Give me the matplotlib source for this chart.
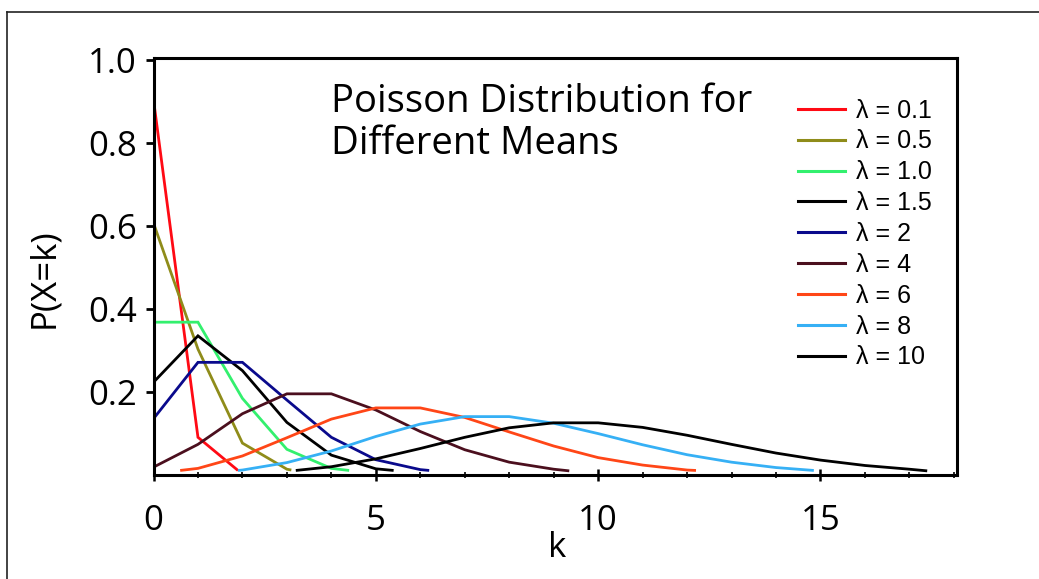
import matplotlib
matplotlib.use("Agg")
import matplotlib.pyplot as plt
from matplotlib.lines import Line2D
from matplotlib.ticker import MultipleLocator, FixedLocator

# ---- data ----
labels = ["λ = 0.1", "λ = 0.5", "λ = 1.0", "λ = 1.5", "λ = 2",
          "λ = 4", "λ = 6", "λ = 8", "λ = 10"]
colors = ["#FF0A14", "#8F8C1A", "#33F06E", "#000000", "#0A0A8C",
          "#4B0F1E", "#FF4617", "#36B0F5", "#000000"]

k_01 = [0, 1, 1.9]
p_01 = [0.905, 0.090, 0.010]
k_05 = [0, 1, 2, 3, 3.1]
p_05 = [0.607, 0.303, 0.076, 0.013, 0.011]
k_10 = [0, 1, 2, 3, 4, 4.4]
p_10 = [0.368, 0.368, 0.184, 0.061, 0.015, 0.010]
k_15 = [0, 1, 2, 3, 4, 5, 5.4]
p_15 = [0.223, 0.335, 0.251, 0.126, 0.047, 0.014, 0.010]
k_2 = [0, 1, 2, 3, 4, 5, 6, 6.2]
p_2 = [0.135, 0.271, 0.271, 0.180, 0.090, 0.036, 0.012, 0.010]
k_4 = [0, 1, 2, 3, 4, 5, 6, 7, 8, 9, 9.35]
p_4 = [0.018, 0.073, 0.147, 0.195, 0.195, 0.156, 0.104, 0.060, 0.030, 0.013, 0.009]
k_6 = [0.6, 1, 2, 3, 4, 5, 6, 7, 8, 9, 10, 11, 12, 12.2]
p_6 = [0.010, 0.015, 0.045, 0.089, 0.134, 0.161, 0.161, 0.138, 0.103, 0.069,
       0.041, 0.023, 0.011, 0.010]
k_8 = [1.9, 2, 3, 4, 5, 6, 7, 8, 9, 10, 11, 12, 13, 14, 14.85]
p_8 = [0.010, 0.011, 0.029, 0.057, 0.092, 0.122, 0.140, 0.140, 0.124, 0.099,
       0.072, 0.048, 0.030, 0.017, 0.010]
k_100 = [3.2, 4, 5, 6, 7, 8, 9, 10, 11, 12, 13, 14, 15, 16, 17, 17.4]
p_100 = [0.010, 0.019, 0.038, 0.063, 0.090, 0.113, 0.125, 0.125, 0.114, 0.095,
         0.073, 0.052, 0.035, 0.022, 0.013, 0.009]

series_k = [k_01, k_05, k_10, k_15, k_2, k_4, k_6, k_8, k_100]
series_p = [p_01, p_05, p_10, p_15, p_2, p_4, p_6, p_8, p_100]

yticks = [0.2, 0.4, 0.6, 0.8, 1.0]
ytick_labels = ["0.2", "0.4", "0.6", "0.8", "1.0"]
xticks = [0, 5, 10, 15]
title_lines = ["Poisson Distribution for", "Different Means"]

main_font = "Open Sans"
legend_font = "Liberation Sans"

W, H = 1039, 579
fig = plt.figure(figsize=(W / 100, H / 100), dpi=100)
fig.patch.set_facecolor("white")

left, right, top, bottom = 153.5, 957.0, 57.5, 474.6
ax = fig.add_axes([left / W, 1 - bottom / H, (right - left) / W, (bottom - top) / H])

for kk, pp, c in zip(series_k, series_p, colors):
    ax.plot(kk, pp, color=c, lw=2.0, solid_joinstyle="miter", solid_capstyle="butt")

ax.set_xlim(0, 18.07)
ax.set_ylim(0, 1.007)

for s in ax.spines.values():
    s.set_linewidth(2.2)
    s.set_color("black")

ax.xaxis.set_major_locator(FixedLocator(xticks))
ax.xaxis.set_minor_locator(MultipleLocator(1))
ax.yaxis.set_major_locator(FixedLocator(yticks))
ax.set_yticklabels(ytick_labels)
ax.set_xticklabels([str(v) for v in xticks])

ax.tick_params(axis="x", which="major", direction="inout", length=8.5, width=1.8,
               pad=17, labelsize=25)
ax.tick_params(axis="x", which="minor", direction="inout", length=4.5, width=1.2)
ax.tick_params(axis="y", which="major", direction="out", length=6, width=2.0,
               pad=6, labelsize=25)
for lab in ax.get_xticklabels() + ax.get_yticklabels():
    lab.set_fontfamily(main_font)

fig.text(557 / W, 1 - 548 / H, "k", fontsize=25, family=main_font,
         ha="center", va="center")
fig.text(44 / W, 1 - 278 / H, "P(X=k)", fontsize=25, family=main_font,
         ha="center", va="center", rotation=90)

fig.text(331 / W, 1 - 112 / H, title_lines[0], fontsize=27.5, family=main_font,
         ha="left", va="baseline")
fig.text(331 / W, 1 - 154 / H, title_lines[1], fontsize=27.5, family=main_font,
         ha="left", va="baseline")

handles = [Line2D([], [], color=c, lw=2.2) for c in colors]
leg = ax.legend(handles, labels, loc="upper left",
                bbox_to_anchor=((798 - left) / (right - left), 1 - (98.5 - top) / (bottom - top)),
                frameon=False, prop={"family": legend_font, "size": 18},
                handlelength=1.88, handletextpad=0.45, labelspacing=0.275,
                borderaxespad=0, borderpad=0)

# outer frame lines (top and left edges visible in the reference)
fig.add_artist(Line2D([7 / W, 7 / W], [0, 1 - 12 / H], transform=fig.transFigure,
                      color="#222222", lw=1.2))
fig.add_artist(Line2D([7 / W, 1], [1 - 12 / H, 1 - 12 / H], transform=fig.transFigure,
                      color="#222222", lw=1.2))

fig.savefig("out.png", dpi=100, facecolor="white")
